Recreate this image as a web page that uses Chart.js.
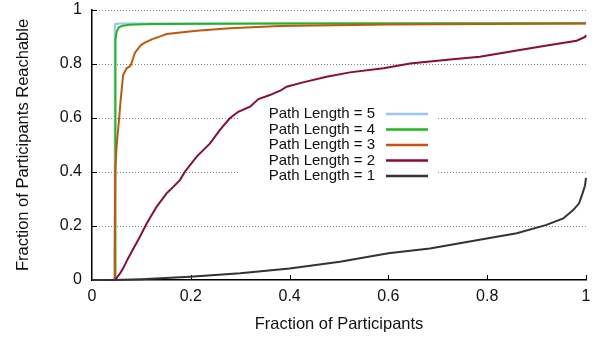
<!DOCTYPE html>
<html>
<head>
<meta charset="utf-8">
<script src="https://cdn.jsdelivr.net/npm/chart.js@4.4.1/dist/chart.umd.min.js"></script>
<style>
  body { margin: 0; background: #fff; }
</style>
</head>
<body>
<canvas id="myChart" width="597" height="337"></canvas>
<script>
// values (CDF curves)
const seriesLabels = ['Path Length = 5', 'Path Length = 4', 'Path Length = 3', 'Path Length = 2', 'Path Length = 1'];
const seriesColors = ['#9ac6f5', '#1eb81e', '#c4570d', '#8c0b3d', '#333333'];

const len5X = [0, 0.046, 0.046, 0.047, 0.06, 1];
const len5Y = [0, 0, 0.93, 0.948, 0.95, 0.951];

const len4X = [0, 0.047, 0.047, 0.048, 0.050, 0.054, 0.060, 0.075, 0.12, 0.4, 1];
const len4Y = [0, 0, 0.80, 0.89, 0.92, 0.935, 0.941, 0.945, 0.948, 0.950, 0.951];

const len3X = [0, 0.045, 0.046, 0.047, 0.050, 0.055, 0.058, 0.060, 0.063, 0.070, 0.078, 0.082, 0.087, 0.099, 0.107, 0.121, 0.141, 0.151, 0.174, 0.212, 0.279, 0.38, 0.6, 0.8, 1.0];
const len3Y = [0, 0, 0.1, 0.4, 0.5, 0.6, 0.667, 0.704, 0.759, 0.784, 0.793, 0.815, 0.842, 0.870, 0.879, 0.891, 0.904, 0.911, 0.916, 0.923, 0.932, 0.941, 0.946, 0.948, 0.950];

const len2X = [0, 0.046, 0.050, 0.057, 0.063, 0.073, 0.084, 0.097, 0.111, 0.131, 0.151, 0.158, 0.178, 0.188, 0.212, 0.239, 0.259, 0.279, 0.296, 0.320, 0.337, 0.360, 0.381, 0.394, 0.427, 0.475, 0.522, 0.590, 0.644, 0.684, 0.725, 0.785, 0.866, 0.927, 0.981, 0.998, 1.0];
const len2Y = [0, 0, 0.008, 0.025, 0.043, 0.080, 0.117, 0.160, 0.210, 0.272, 0.321, 0.333, 0.370, 0.401, 0.457, 0.506, 0.556, 0.599, 0.623, 0.642, 0.670, 0.685, 0.701, 0.716, 0.732, 0.753, 0.769, 0.784, 0.802, 0.809, 0.817, 0.827, 0.852, 0.870, 0.886, 0.900, 0.907];

const len1X = [0, 0.045, 0.1, 0.198, 0.3, 0.40, 0.502, 0.600, 0.684, 0.799, 0.860, 0.920, 0.954, 0.974, 0.986, 0.993, 0.998, 1.0];
const len1Y = [0, 0, 0.003, 0.012, 0.025, 0.043, 0.068, 0.099, 0.117, 0.154, 0.173, 0.204, 0.228, 0.259, 0.284, 0.321, 0.35, 0.378];

const xTicks = [0, 0.2, 0.4, 0.6, 0.8, 1];
const yTicks = [0, 0.2, 0.4, 0.6, 0.8, 1];

const allX = [len5X, len4X, len3X, len2X, len1X];
const allY = [len5Y, len4Y, len3Y, len2Y, len1Y];

function toPoints(xs, ys) {
  return xs.map((v, i) => ({x: v, y: ys[i]}));
}

const FONT = "'Liberation Sans', Arial, Helvetica, sans-serif";

// gnuplot-ish extras: dotted grid (gap behind key), inward ticks, key text left of samples
const gnuExtras = {
  id: 'gnuExtras',
  beforeDatasetsDraw(chart) {
    const {ctx, scales: {x, y}} = chart;
    ctx.save();
    ctx.strokeStyle = '#8a8a8a';
    ctx.lineWidth = 1;
    ctx.setLineDash([1, 2]);
    yTicks.forEach(v => {
      if (v === 0) return;
      const py = Math.round(y.getPixelForValue(v)) + 0.5;
      ctx.beginPath();
      ctx.moveTo(x.left + 1, py);
      ctx.lineTo(x.right, py);
      ctx.stroke();
    });
    ctx.setLineDash([]);
    ctx.fillStyle = '#fff';
    ctx.fillRect(239, 104, 198, 80);
    ctx.strokeStyle = '#000';
    xTicks.forEach(v => {
      if (v === 0) return;
      const px = Math.round(x.getPixelForValue(v)) + 0.5;
      ctx.beginPath();
      ctx.moveTo(px, y.bottom);
      ctx.lineTo(px, y.bottom - 5);
      ctx.stroke();
    });
    yTicks.forEach(v => {
      if (v === 0) return;
      const py = Math.round(y.getPixelForValue(v)) + 0.5;
      ctx.beginPath();
      ctx.moveTo(x.left, py);
      ctx.lineTo(x.left + 5, py);
      ctx.stroke();
    });
    ctx.restore();
  },
  afterDraw(chart) {
    const ctx = chart.ctx;
    ctx.save();
    ctx.font = '15px ' + FONT;
    ctx.textAlign = 'right';
    ctx.textBaseline = 'middle';
    seriesLabels.forEach((lab, i) => {
      const ly = 114 + i * 15.5;
      ctx.fillStyle = '#111';
      ctx.fillText(lab, 375, ly);
      ctx.strokeStyle = seriesColors[i];
      ctx.lineWidth = 2.5;
      ctx.beginPath();
      ctx.moveTo(386, ly);
      ctx.lineTo(428, ly);
      ctx.stroke();
    });
    ctx.restore();
  }
};

const ctx = document.getElementById('myChart').getContext('2d');
const myChart = new Chart(ctx, {
  type: 'line',
  data: {
    datasets: seriesLabels.map((lab, i) => ({
      label: lab,
      data: toPoints(allX[i], allY[i]),
      borderColor: seriesColors[i],
      borderWidth: 2,
      pointRadius: 0,
      tension: 0,
      clip: false,
      order: 5 - i
    }))
  },
  options: {
    responsive: false,
    animation: false,
    devicePixelRatio: 1,
    layout: { padding: { top: 10, right: 11, left: 0, bottom: 0 } },
    plugins: {
      legend: { display: false },
      tooltip: { enabled: false }
    },
    scales: {
      x: {
        type: 'linear',
        min: 0,
        max: 1,
        afterFit: s => { s.height = 57; s.paddingLeft = 0; s.paddingRight = 0; },
        afterBuildTicks: s => { s.ticks = xTicks.map(v => ({value: v})); },
        ticks: {
          padding: 7,
          color: '#111',
          font: { family: FONT, size: 16 },
          callback: v => String(Math.round(v * 10) / 10)
        },
        grid: { display: false, drawTicks: false },
        border: { display: true, color: '#000', width: 1.5 },
        title: {
          display: true,
          text: 'Fraction of Participants',
          color: '#111',
          font: { family: FONT, size: 16.5 },
          padding: { top: 0, bottom: 3 }
        }
      },
      y: {
        type: 'linear',
        min: 0,
        max: 1,
        afterFit: s => { s.width = 92; s.paddingTop = 0; s.paddingBottom = 0; },
        afterBuildTicks: s => { s.ticks = yTicks.map(v => ({value: v})); },
        ticks: {
          padding: 10,
          color: '#111',
          font: { family: FONT, size: 16 },
          callback: v => String(Math.round(v * 10) / 10)
        },
        grid: { display: false, drawTicks: false },
        border: { display: true, color: '#000', width: 1.5 },
        title: {
          display: true,
          text: 'Fraction of Participants Reachable',
          color: '#111',
          font: { family: FONT, size: 16.5 },
          padding: { top: 14, bottom: 0 }
        }
      }
    }
  },
  plugins: [gnuExtras]
});
</script>
</body>
</html>
